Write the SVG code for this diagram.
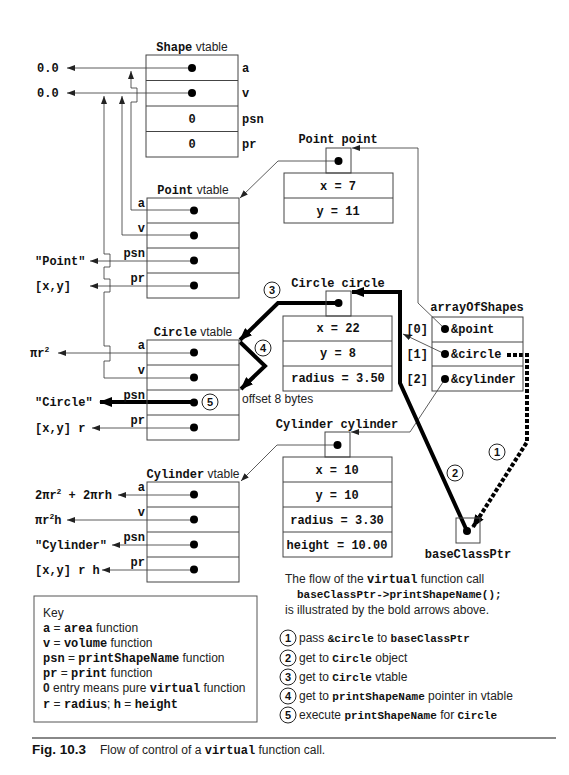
<svg xmlns="http://www.w3.org/2000/svg" width="569" height="775" viewBox="0 0 569 775">
<defs>
<style>
.box{fill:none;stroke:#444;stroke-width:1}
.ln{fill:none;stroke:#333;stroke-width:0.8}
.thick{fill:none;stroke:#000;stroke-width:4}
.dash{fill:none;stroke:#000;stroke-width:4;stroke-dasharray:4 2}
.dot{fill:#000}
.mb{font-family:"Liberation Mono",monospace;font-weight:bold;font-size:12px;fill:#111}
.ms{font-family:"Liberation Mono",monospace;font-weight:bold;font-size:11px;fill:#111}
.sans{font-family:"Liberation Sans",Arial,sans-serif;font-size:12px;fill:#222}
.num{font-family:"Liberation Sans",Arial,sans-serif;font-weight:bold;font-size:11px;fill:#111}
.circ{fill:#fff;stroke:#222;stroke-width:1}
</style>
<marker id="ah" markerUnits="userSpaceOnUse" markerWidth="8" markerHeight="6" refX="8" refY="3" orient="auto"><path d="M0,0 L8,3 L0,6 z" fill="#222"/></marker>
<marker id="ahb" markerUnits="userSpaceOnUse" markerWidth="13" markerHeight="10" refX="12" refY="5" orient="auto"><path d="M0,0 L13,5 L0,10 z" fill="#000"/></marker>
</defs>
<rect width="569" height="775" fill="#fff"/>

<g id="connectors">
<path class="ln" d="M192,68 H67" marker-end="url(#ah)"/>
<path class="ln" d="M192,93 H67" marker-end="url(#ah)"/>
<path class="ln" d="M194,210 H131 V102 H137 V88 H131 V71" marker-end="url(#ah)"/>
<path class="ln" d="M194,235 H122 V96" marker-end="url(#ah)"/>
<path class="ln" d="M194,378 H104 V361 H110 V346 H104 V292 H110 V279 H104 V267 H110 V254 H104 V96" marker-end="url(#ah)"/>
<path class="ln" d="M194,261 H90" marker-end="url(#ah)"/>
<path class="ln" d="M194,286 H90" marker-end="url(#ah)"/>
<path class="ln" d="M194,353 H58" marker-end="url(#ah)"/>
<path class="thick" d="M194,402 H100" marker-end="url(#ahb)"/>
<path class="ln" d="M194,428 H92" marker-end="url(#ah)"/>
<path class="ln" d="M194,495 H118" marker-end="url(#ah)"/>
<path class="ln" d="M194,520 H67" marker-end="url(#ah)"/>
<path class="ln" d="M194,545 H112" marker-end="url(#ah)"/>
<path class="ln" d="M194,570 H102" marker-end="url(#ah)"/>
<path class="ln" d="M338,161 H278 L240,198" marker-end="url(#ah)"/>
<path class="ln" d="M337,445 H277 L241,481" marker-end="url(#ah)"/>
<path class="ln" d="M445,329 L418,303 V148 H352" marker-end="url(#ah)"/>
<path class="ln" d="M445,354 L403,334" marker-end="url(#ah)"/>
<path class="ln" d="M445,379 L410,432 H351" marker-end="url(#ah)"/>
<path class="dash" d="M507,355 H527 V442 L473,527" marker-end="url(#ahb)"/>
<path class="thick" d="M467,531 L400,383 V292 H352" marker-end="url(#ahb)"/>
<path class="thick" d="M338,303 H278 L240,340" marker-end="url(#ahb)"/>
<path class="thick" d="M240,342 L265,366 L241,389" marker-end="url(#ahb)"/>
</g>

<g id="shape-vtable">
<text x="192" y="51" text-anchor="middle"><tspan class="mb">Shape</tspan><tspan class="sans"> vtable</tspan></text>
<rect class="box" x="146" y="55" width="92" height="102"/>
<path class="box" d="M146,80.5 H238 M146,106 H238 M146,131.5 H238"/>
<circle class="dot" cx="192" cy="68" r="4"/>
<circle class="dot" cx="192" cy="93" r="4"/>
<text class="mb" x="192" y="123" text-anchor="middle">0</text>
<text class="mb" x="192" y="148" text-anchor="middle">0</text>
<text class="mb" x="242" y="72">a</text>
<text class="mb" x="242" y="97">v</text>
<text class="mb" x="242" y="123">psn</text>
<text class="mb" x="242" y="148">pr</text>
<text class="mb" x="37" y="72">0.0</text>
<text class="mb" x="37" y="97">0.0</text>
</g>

<g id="point-vtable">
<text x="193" y="194" text-anchor="middle"><tspan class="mb">Point</tspan><tspan class="sans"> vtable</tspan></text>
<rect class="box" x="147" y="198" width="92" height="100"/>
<path class="box" d="M147,223 H239 M147,248 H239 M147,273 H239"/>
<circle class="dot" cx="194" cy="210.5" r="4"/>
<circle class="dot" cx="194" cy="235.5" r="4"/>
<circle class="dot" cx="194" cy="260.5" r="4"/>
<circle class="dot" cx="194" cy="285.5" r="4"/>
<text class="mb" x="145" y="207" text-anchor="end">a</text>
<text class="mb" x="145" y="232" text-anchor="end">v</text>
<text class="mb" x="145" y="257" text-anchor="end">psn</text>
<text class="mb" x="145" y="282" text-anchor="end">pr</text>
<text class="mb" x="35" y="265">"Point"</text>
<text class="mb" x="35" y="290">[x,y]</text>
</g>

<g id="circle-vtable">
<text x="193" y="336" text-anchor="middle"><tspan class="mb">Circle</tspan><tspan class="sans"> vtable</tspan></text>
<rect class="box" x="147" y="340" width="92" height="100"/>
<path class="box" d="M147,365 H239 M147,390 H239 M147,415 H239"/>
<circle class="dot" cx="194" cy="352.5" r="4"/>
<circle class="dot" cx="194" cy="377.5" r="4"/>
<circle class="dot" cx="194" cy="402.5" r="4"/>
<circle class="dot" cx="194" cy="427.5" r="4"/>
<text class="mb" x="145" y="349" text-anchor="end">a</text>
<text class="mb" x="145" y="374" text-anchor="end">v</text>
<text class="mb" x="145" y="399" text-anchor="end">psn</text>
<text class="mb" x="145" y="424" text-anchor="end">pr</text>
<text class="mb" x="30" y="357">πr<tspan font-size="8" dy="-5">2</tspan></text>
<text class="mb" x="35" y="406">"Circle"</text>
<text class="mb" x="35" y="432">[x,y] r</text>
<text class="sans" x="242" y="403" font-size="11">offset 8 bytes</text>
</g>

<g id="cylinder-vtable">
<text x="193" y="478" text-anchor="middle"><tspan class="mb">Cylinder</tspan><tspan class="sans"> vtable</tspan></text>
<rect class="box" x="147" y="482" width="92" height="100"/>
<path class="box" d="M147,507 H239 M147,532 H239 M147,557 H239"/>
<circle class="dot" cx="194" cy="494.5" r="4"/>
<circle class="dot" cx="194" cy="519.5" r="4"/>
<circle class="dot" cx="194" cy="544.5" r="4"/>
<circle class="dot" cx="194" cy="569.5" r="4"/>
<text class="mb" x="145" y="491" text-anchor="end">a</text>
<text class="mb" x="145" y="516" text-anchor="end">v</text>
<text class="mb" x="145" y="541" text-anchor="end">psn</text>
<text class="mb" x="145" y="566" text-anchor="end">pr</text>
<text class="mb" x="35" y="499">2πr<tspan font-size="8" dy="-5">2</tspan><tspan dy="5"> + 2πrh</tspan></text>
<text class="mb" x="35" y="524">πr<tspan font-size="8" dy="-5">2</tspan><tspan dy="5">h</tspan></text>
<text class="mb" x="35" y="549">"Cylinder"</text>
<text class="mb" x="35" y="574">[x,y] r h</text>
</g>

<g id="point-point">
<text class="mb" x="338" y="143" text-anchor="middle">Point point</text>
<rect class="box" x="326" y="148" width="25" height="25"/>
<circle class="dot" cx="338.5" cy="161" r="4"/>
<rect class="box" x="284" y="173" width="109" height="50"/>
<path class="box" d="M284,198 H393"/>
<text class="mb" x="338" y="190" text-anchor="middle">x = 7</text>
<text class="mb" x="338" y="215" text-anchor="middle">y = 11</text>
</g>

<g id="circle-circle">
<text class="mb" x="338" y="287" text-anchor="middle">Circle circle</text>
<rect class="box" x="326" y="291" width="25" height="25"/>
<circle class="dot" cx="338.5" cy="303" r="4"/>
<rect class="box" x="283" y="316" width="109" height="75"/>
<path class="box" d="M283,341 H392 M283,366 H392"/>
<text class="mb" x="338" y="332" text-anchor="middle">x = 22</text>
<text class="mb" x="338" y="357" text-anchor="middle">y = 8</text>
<text class="mb" x="338" y="382" text-anchor="middle">radius = 3.50</text>
</g>

<g id="cylinder-cylinder">
<text class="mb" x="337" y="428" text-anchor="middle">Cylinder cylinder</text>
<rect class="box" x="325" y="432" width="25" height="25"/>
<circle class="dot" cx="337.5" cy="445" r="4"/>
<rect class="box" x="283" y="457" width="109" height="100"/>
<path class="box" d="M283,482 H392 M283,507 H392 M283,532 H392"/>
<text class="mb" x="337" y="474" text-anchor="middle">x = 10</text>
<text class="mb" x="337" y="499" text-anchor="middle">y = 10</text>
<text class="mb" x="337" y="524" text-anchor="middle">radius = 3.30</text>
<text class="mb" x="337" y="549" text-anchor="middle">height = 10.00</text>
</g>

<g id="array-of-shapes">
<text class="mb" x="477" y="311" text-anchor="middle">arrayOfShapes</text>
<rect class="box" x="432" y="317" width="91" height="74"/>
<path class="box" d="M432,342 H523 M432,366 H523"/>
<circle class="dot" cx="445" cy="329" r="4"/>
<circle class="dot" cx="445" cy="354" r="4"/>
<circle class="dot" cx="445" cy="379" r="4"/>
<text class="mb" x="451" y="333">&amp;point</text>
<text class="mb" x="451" y="358">&amp;circle</text>
<text class="mb" x="451" y="383">&amp;cylinder</text>
<text class="mb" x="428" y="333" text-anchor="end">[0]</text>
<text class="mb" x="428" y="358" text-anchor="end">[1]</text>
<text class="mb" x="428" y="383" text-anchor="end">[2]</text>
</g>

<g id="base-class-ptr">
<rect class="box" x="456" y="518" width="24" height="25"/>
<circle class="dot" cx="467" cy="531" r="4"/>
<text class="mb" x="468" y="558" text-anchor="middle">baseClassPtr</text>
</g>

<g id="step-markers">
<circle class="circ" cx="497" cy="452" r="8"/><text class="num" x="497" y="456" text-anchor="middle">1</text>
<circle class="circ" cx="455" cy="473" r="8"/><text class="num" x="455" y="477" text-anchor="middle">2</text>
<circle class="circ" cx="272" cy="290" r="8"/><text class="num" x="272" y="294" text-anchor="middle">3</text>
<circle class="circ" cx="263" cy="348" r="8"/><text class="num" x="263" y="352" text-anchor="middle">4</text>
<circle class="circ" cx="210" cy="402" r="8"/><text class="num" x="210" y="406" text-anchor="middle">5</text>
</g>

<g id="key">
<rect x="34" y="596" width="223" height="126" fill="none" stroke="#555" stroke-width="1"/>
<text class="sans" x="43" y="617" font-size="13">Key</text>
<text x="43" y="632"><tspan class="mb">a</tspan><tspan class="sans"> = </tspan><tspan class="mb">area</tspan><tspan class="sans"> function</tspan></text>
<text x="43" y="647"><tspan class="mb">v</tspan><tspan class="sans"> = </tspan><tspan class="mb">volume</tspan><tspan class="sans"> function</tspan></text>
<text x="43" y="662"><tspan class="mb">psn</tspan><tspan class="sans"> = </tspan><tspan class="mb">printShapeName</tspan><tspan class="sans"> function</tspan></text>
<text x="43" y="677"><tspan class="mb">pr</tspan><tspan class="sans"> = </tspan><tspan class="mb">print</tspan><tspan class="sans"> function</tspan></text>
<text x="43" y="692"><tspan class="sans" font-weight="bold">0</tspan><tspan class="sans"> entry means pure </tspan><tspan class="mb">virtual</tspan><tspan class="sans"> function</tspan></text>
<text x="43" y="708"><tspan class="mb">r</tspan><tspan class="sans"> = </tspan><tspan class="mb">radius</tspan><tspan class="sans">; </tspan><tspan class="mb">h</tspan><tspan class="sans"> = </tspan><tspan class="mb">height</tspan></text>
</g>

<g id="explanation">
<text x="285" y="583"><tspan class="sans">The flow of the </tspan><tspan class="mb">virtual</tspan><tspan class="sans"> function call</tspan></text>
<text class="ms" x="297" y="598">baseClassPtr-&gt;printShapeName();</text>
<text class="sans" x="285" y="614" font-size="11.6">is illustrated by the bold arrows above.</text>
<circle class="circ" cx="288" cy="638" r="8"/><text class="num" x="288" y="642" text-anchor="middle">1</text>
<text x="299" y="642"><tspan class="sans">pass </tspan><tspan class="ms">&amp;circle</tspan><tspan class="sans"> to </tspan><tspan class="ms">baseClassPtr</tspan></text>
<circle class="circ" cx="288" cy="658" r="8"/><text class="num" x="288" y="662" text-anchor="middle">2</text>
<text x="299" y="662"><tspan class="sans">get to </tspan><tspan class="ms">Circle</tspan><tspan class="sans"> object</tspan></text>
<circle class="circ" cx="288" cy="677" r="8"/><text class="num" x="288" y="681" text-anchor="middle">3</text>
<text x="299" y="681"><tspan class="sans">get to </tspan><tspan class="ms">Circle</tspan><tspan class="sans"> vtable</tspan></text>
<circle class="circ" cx="288" cy="696" r="8"/><text class="num" x="288" y="700" text-anchor="middle">4</text>
<text x="299" y="700"><tspan class="sans" font-size="11.5">get to </tspan><tspan class="ms" font-size="10.5">printShapeName</tspan><tspan class="sans" font-size="11.5"> pointer in vtable</tspan></text>
<circle class="circ" cx="288" cy="715" r="8"/><text class="num" x="288" y="719" text-anchor="middle">5</text>
<text x="299" y="719"><tspan class="sans" font-size="11.5">execute </tspan><tspan class="ms" font-size="10.5">printShapeName</tspan><tspan class="sans" font-size="11.5"> for </tspan><tspan class="ms" font-size="10.5">Circle</tspan></text>
</g>

<g id="caption">
<path d="M32,738 H556" stroke="#888" stroke-width="2"/>
<text x="32" y="754" font-family="Liberation Sans,Arial,sans-serif" font-size="13.5" font-weight="bold" fill="#111">Fig. 10.3</text>
<text x="100" y="754"><tspan class="sans" font-size="13.5">Flow of control of a </tspan><tspan class="mb" font-size="13.5">virtual</tspan><tspan class="sans" font-size="13.5"> function call.</tspan></text>
</g>
</svg>
